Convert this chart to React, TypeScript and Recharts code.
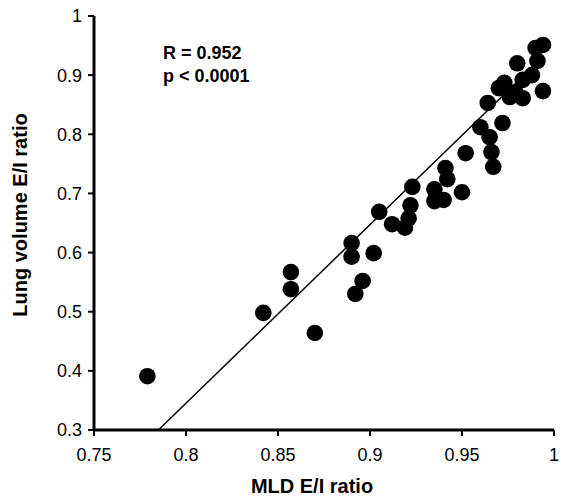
import { ReferenceLine, Scatter, ScatterChart, XAxis, YAxis, Label } from "recharts";

const mldRatio = [
  0.779, 0.842, 0.857, 0.857, 0.870, 0.890, 0.890, 0.902, 0.896, 0.892,
  0.905, 0.912, 0.919, 0.921, 0.922, 0.923, 0.935, 0.935, 0.940, 0.941,
  0.942, 0.950, 0.952, 0.960, 0.965, 0.966, 0.967, 0.972, 0.964, 0.970,
  0.976, 0.979, 0.983, 0.983, 0.973, 0.980, 0.988, 0.994, 0.991, 0.990,
  0.994,
];
const lungRatio = [
  0.391, 0.498, 0.567, 0.538, 0.464, 0.616, 0.593, 0.599, 0.552, 0.530,
  0.669, 0.648, 0.642, 0.658, 0.680, 0.711, 0.707, 0.687, 0.689, 0.743,
  0.724, 0.702, 0.768, 0.812, 0.795, 0.770, 0.745, 0.819, 0.853, 0.878,
  0.863, 0.871, 0.861, 0.892, 0.887, 0.920, 0.900, 0.873, 0.924, 0.946,
  0.951,
];
const points = mldRatio.map((x, i) => ({ x, y: lungRatio[i] }));

const fitStart = { x: 0.785, y: 0.3 };
const fitEnd = { x: 0.992, y: 0.925 };

const xTicks = [0.75, 0.8, 0.85, 0.9, 0.95, 1];
const yTicks = [0.3, 0.4, 0.5, 0.6, 0.7, 0.8, 0.9, 1];

const font = "'Liberation Sans', Arial, sans-serif";
const fmt = (v: number) => String(+v.toFixed(2));

const Dot = (p: any) => <circle cx={p.cx} cy={p.cy} r={8.3} fill="#000" />;

export default function App() {
  return (
    <div style={{ position: "absolute", left: 0, top: 0, width: 561, height: 498, background: "#fff", fontFamily: font }}>
      <ScatterChart width={561} height={498} margin={{ top: 16, right: 7, bottom: 28, left: 0 }}>
        <XAxis
          type="number"
          dataKey="x"
          domain={[0.75, 1]}
          ticks={xTicks}
          tickFormatter={fmt}
          height={40}
          axisLine={{ stroke: "#000", strokeWidth: 3 }}
          tickLine={{ stroke: "#000", strokeWidth: 2 }}
          tickSize={6}
          tickMargin={12}
          tick={{ fontSize: 18, fill: "#000", fontFamily: font }}
        >
          <Label value="MLD E/I ratio" position="bottom" offset={9} dx={-12} style={{ fontSize: 20, fontWeight: "bold", fill: "#000", fontFamily: font }} />
        </XAxis>
        <YAxis
          type="number"
          dataKey="y"
          domain={[0.3, 1]}
          ticks={yTicks}
          tickFormatter={fmt}
          width={94}
          axisLine={{ stroke: "#000", strokeWidth: 3 }}
          tickLine={{ stroke: "#000", strokeWidth: 2 }}
          tickSize={6}
          tickMargin={6}
          tick={{ fontSize: 18, fill: "#000", fontFamily: font }}
        >
          <Label value="Lung volume E/I ratio" angle={-90} position="insideLeft" offset={20} dy={-8} style={{ fontSize: 20, fontWeight: "bold", fill: "#000", fontFamily: font, textAnchor: "middle" }} />
        </YAxis>
        <ReferenceLine segment={[fitStart, fitEnd]} stroke="#000" strokeWidth={1.5} ifOverflow="visible" />
        <Scatter data={points} shape={Dot} isAnimationActive={false} />
      </ScatterChart>
      <div style={{ position: "absolute", left: 163, top: 42, fontSize: 18, fontWeight: "bold", lineHeight: "23px", color: "#000" }}>
        <div>R = 0.952</div>
        <div>p &lt; 0.0001</div>
      </div>
    </div>
  );
}
